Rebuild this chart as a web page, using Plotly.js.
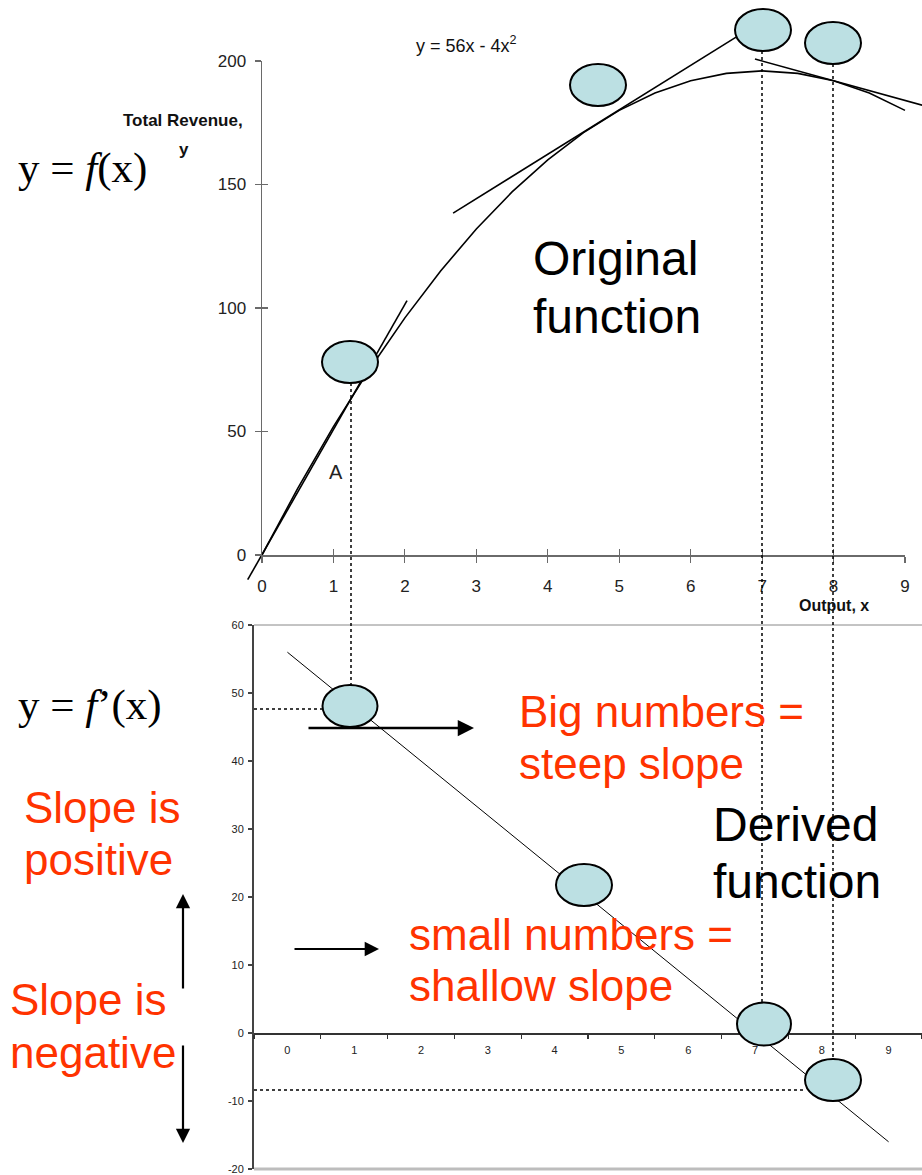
<!DOCTYPE html>
<html>
<head>
<meta charset="utf-8">
<script src="https://cdn.plot.ly/plotly-3.0.1.min.js"></script>
<style>html,body{margin:0;padding:0;background:#fff;}#chart{width:922px;height:1175px;}</style>
</head>
<body>
<div id="chart"></div>
<script>
// ---------- data ----------
const outputX = [0,0.5,1,1.5,2,2.5,3,3.5,4,4.5,5,5.5,6,6.5,7,7.5,8,8.5,9];
const revenueY = [0,27,52,75,96,115,132,147,160,171,180,187,192,195,196,195,192,187,180];
const tangentAX = [-0.2, 2.03];   const tangentAY = [-10, 103];
const tangentBX = [2.675, 6.72];  const tangentBY = [138.4, 211.2];
const tangentCX = [6.9, 9.24];    const tangentCY = [200.8, 182.1];
const topXTicks = [0,1,2,3,4,5,6,7,8,9];
const topYTicks = [0,50,100,150,200];
const derivCats = ['0','1','2','3','4','5','6','7','8','9'];
const derivY = [56,48,40,32,24,16,8,0,-8,-16];
const botYTicks = [-20,-10,0,10,20,30,40,50,60];

// ---------- layout helpers ----------
const W = 922, H = 1175;
const PX = x => x / W;
const PY = y => 1 - y / H;
const NARROW = '"Liberation Sans Narrow", "Arial Narrow", "Liberation Sans", Arial, sans-serif';
const SANS = '"Liberation Sans", Arial, Helvetica, sans-serif';
const SERIF = '"Liberation Serif", "Times New Roman", "DejaVu Serif", serif';
const RED = '#FF3300';

// top chart pixel mapping
const x0px = 262, x9px = 905, y0px = 555, y200px = 61;
const sX = (x9px - x0px) / 9, sY = (y0px - y200px) / 200;
const drawL = 200, drawR = 922, drawT = 0, drawB = 610;

const lineStyle = {color: '#000', width: 1.6};
const traces = [
  {x: outputX, y: revenueY, mode: 'lines', line: lineStyle, xaxis: 'x', yaxis: 'y', hoverinfo: 'skip'},
  {x: tangentAX, y: tangentAY, mode: 'lines', line: lineStyle, xaxis: 'x', yaxis: 'y', hoverinfo: 'skip'},
  {x: tangentBX, y: tangentBY, mode: 'lines', line: lineStyle, xaxis: 'x', yaxis: 'y', hoverinfo: 'skip'},
  {x: tangentCX, y: tangentCY, mode: 'lines', line: lineStyle, xaxis: 'x', yaxis: 'y', hoverinfo: 'skip'},
  {x: [], y: [], xaxis: 'x2', yaxis: 'y2', hoverinfo: 'skip'},
  {x: [], y: [], xaxis: 'x3', yaxis: 'y2', hoverinfo: 'skip'},
  {x: [], y: [], xaxis: 'x2', yaxis: 'y3', hoverinfo: 'skip'},
  {x: derivCats, y: derivY, mode: 'lines', line: {color: '#000', width: 1}, xaxis: 'x4', yaxis: 'y4', hoverinfo: 'skip'}
];

const axisGray = '#6a6a6a';
const tickFontTop = {family: NARROW, size: 17, color: '#222'};
const layout = {
  width: W, height: H,
  margin: {l: 0, r: 0, t: 0, b: 0, pad: 0},
  paper_bgcolor: '#fff', plot_bgcolor: 'rgba(0,0,0,0)',
  showlegend: false,
  // drawing subplot (hidden axes)
  xaxis: {domain: [PX(drawL), PX(drawR)], range: [(drawL - x0px) / sX, (drawR - x0px) / sX], visible: false, fixedrange: true},
  yaxis: {domain: [PY(drawB), PY(drawT)], range: [(y0px - drawB) / sY, (y0px - drawT) / sY], visible: false, fixedrange: true},
  // top axes display
  xaxis2: {domain: [PX(x0px), PX(x9px)], range: [0, 9], anchor: 'y2', tickvals: topXTicks, ticktext: topXTicks.map(String),
    showline: true, linecolor: axisGray, linewidth: 1.5, ticks: 'outside', ticklen: 6, tickwidth: 1.2, tickcolor: axisGray,
    showgrid: false, zeroline: false, tickfont: tickFontTop, ticklabelstandoff: 9},
  yaxis2: {domain: [PY(y0px), PY(y200px)], range: [0, 200], anchor: 'x2', tickvals: topYTicks, ticktext: topYTicks.map(String),
    showline: true, linecolor: axisGray, linewidth: 1.5, ticks: 'outside', ticklen: 6, tickwidth: 1.2, tickcolor: axisGray,
    showgrid: false, zeroline: false, tickfont: tickFontTop, ticklabelstandoff: 5},
  xaxis3: {overlaying: 'x2', anchor: 'y2', range: [0, 9], tickvals: topXTicks, ticks: 'inside', ticklen: 6, tickwidth: 1.2,
    tickcolor: axisGray, showticklabels: false, showline: false, showgrid: false, zeroline: false},
  yaxis3: {overlaying: 'y2', anchor: 'x2', range: [0, 200], tickvals: topYTicks, ticks: 'inside', ticklen: 6, tickwidth: 1.2,
    tickcolor: axisGray, showticklabels: false, showline: false, showgrid: false, zeroline: false},
  // bottom chart
  xaxis4: {domain: [PX(254), PX(922)], type: 'category', categoryorder: 'array', categoryarray: derivCats, range: [-0.5, 9.5],
    tickson: 'boundaries', anchor: 'free', position: PY(1033), showline: true, linecolor: '#333', linewidth: 1.5,
    ticks: 'outside', ticklen: 4, tickwidth: 1.2, tickcolor: '#333', showgrid: false, zeroline: false,
    tickfont: {family: NARROW, size: 11, color: '#222'}, ticklabelstandoff: 6},
  yaxis4: {domain: [PY(1169), PY(625)], range: [-20, 60], anchor: 'x4', tickvals: botYTicks, ticktext: botYTicks.map(String),
    showline: true, linecolor: '#444', linewidth: 2, ticks: 'outside', ticklen: 4, tickwidth: 1.2, tickcolor: '#444',
    showgrid: false, zeroline: false, tickfont: {family: NARROW, size: 11, color: '#222'}, ticklabelstandoff: 2},
  shapes: [],
  annotations: []
};

// borders of bottom chart
layout.shapes.push({type: 'line', xref: 'paper', yref: 'paper', x0: PX(254), x1: PX(922), y0: PY(625), y1: PY(625), line: {color: '#888', width: 1}});
layout.shapes.push({type: 'line', xref: 'paper', yref: 'paper', x0: PX(254), x1: PX(922), y0: PY(1169), y1: PY(1169), line: {color: '#bdbdbd', width: 3}});

// dotted guide lines
const dot = (xa, ya, xb, yb) => layout.shapes.push({type: 'line', xref: 'paper', yref: 'paper', x0: PX(xa), y0: PY(ya), x1: PX(xb), y1: PY(yb), line: {color: '#000', width: 1.5, dash: 'dot'}});
dot(351, 383, 351, 686);
dot(762, 51, 762, 1003);
dot(833, 64, 833, 1059);
dot(254, 709, 322, 709);
dot(254, 1090, 805, 1090);

// ellipses
const ell = (cx, cy, w, h) => layout.shapes.push({type: 'circle', xref: 'paper', yref: 'paper', x0: PX(cx - w / 2), x1: PX(cx + w / 2), y0: PY(cy + h / 2), y1: PY(cy - h / 2), fillcolor: '#BCE0E3', line: {color: '#000', width: 2}, layer: 'above'});
ell(350, 362, 56, 42);
ell(598, 85, 56, 42);
ell(763, 30, 56, 42);
ell(833, 43, 56, 42);
ell(350, 706, 55, 42);
ell(584, 885, 56, 42);
ell(764, 1024, 54, 43);
ell(833, 1080, 56, 42);

// texts
const txt = (t, x, y, font, xanchor) => layout.annotations.push({text: t, xref: 'paper', yref: 'paper', x: PX(x), y: PY(y), xanchor: xanchor || 'left', yanchor: 'middle', showarrow: false, font: font});
txt('y = 56x - 4x<sup>2</sup>', 414, 44, {family: NARROW, size: 18, color: '#111'});
txt('<b>Total Revenue,</b>', 183, 120, {family: NARROW, size: 17, color: '#111'}, 'center');
txt('<b>y</b>', 184, 150, {family: NARROW, size: 17, color: '#111'}, 'center');
txt('<b>Output, x</b>', 834, 605, {family: NARROW, size: 16, color: '#111'}, 'center');
txt('A', 336, 472, {family: NARROW, size: 20, color: '#222'}, 'center');
txt('y = <i>f</i>(x)', 16, 168, {family: SERIF, size: 43, color: '#000'});
txt('y = <i>f</i>\u2019(x)', 16, 705, {family: SERIF, size: 43, color: '#000'});
txt('Original', 531, 258, {family: SANS, size: 48, color: '#000'});
txt('function', 531, 317, {family: SANS, size: 48, color: '#000'});
txt('Derived', 711, 824, {family: SANS, size: 48, color: '#000'});
txt('function', 711, 882, {family: SANS, size: 48, color: '#000'});
txt('Big numbers =', 517, 711, {family: SANS, size: 44, color: RED});
txt('steep slope', 517, 763, {family: SANS, size: 44, color: RED});
txt('small numbers =', 407, 934, {family: SANS, size: 44, color: RED});
txt('shallow slope', 407, 985, {family: SANS, size: 44, color: RED});
txt('Slope is', 22, 807, {family: SANS, size: 44, color: RED});
txt('positive', 22, 860, {family: SANS, size: 44, color: RED});
txt('Slope is', 8, 999, {family: SANS, size: 44, color: RED});
txt('negative', 8, 1052, {family: SANS, size: 44, color: RED});

// arrows (tip x,y ; tail offset ax, ay in px)
const arrow = (x, y, ax, ay, w) => layout.annotations.push({text: '', xref: 'paper', yref: 'paper', x: PX(x), y: PY(y), ax: ax, ay: ay, showarrow: true, arrowhead: 2, arrowsize: 1.3, arrowwidth: w || 2, arrowcolor: '#000', standoff: 0, startstandoff: 0});
arrow(474, 728, -167, 0, 2.5);
arrow(379, 949, -86, 0, 2.2);
arrow(183, 894, 0, 96, 2.2);
arrow(183, 1143, 0, -99, 2.2);

Plotly.newPlot('chart', traces, layout, {staticPlot: true, displayModeBar: false});
</script>
</body>
</html>
